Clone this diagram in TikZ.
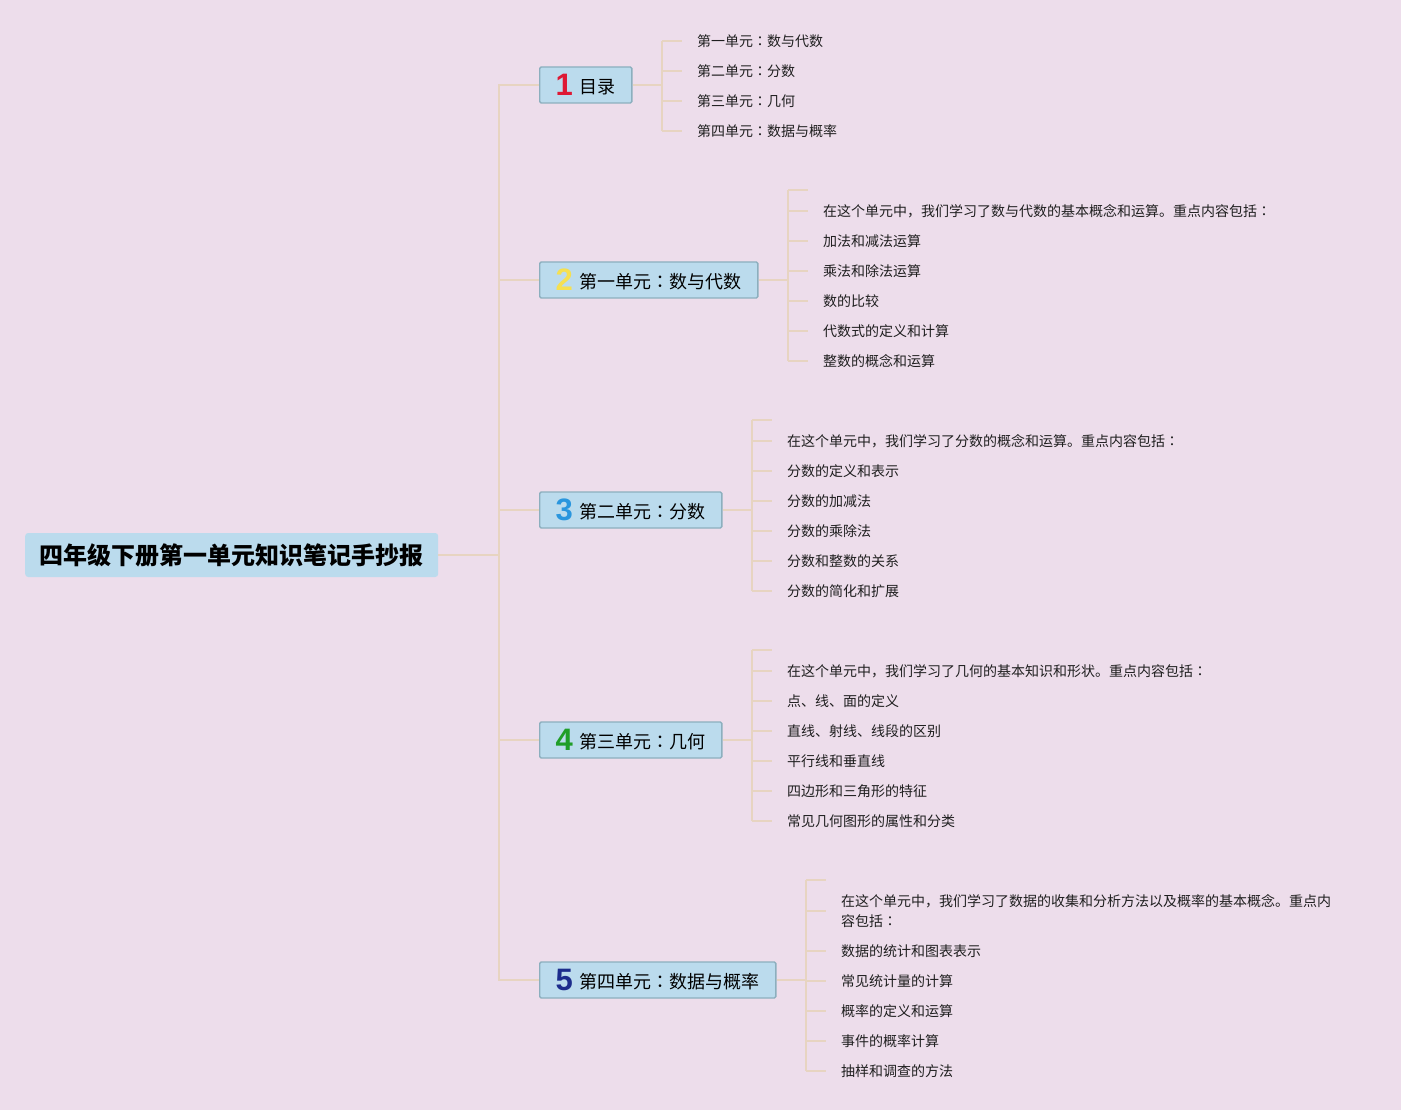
\documentclass[tikz,border=0pt]{standalone}
\usepackage{fontspec}
\newfontfamily\cjk{Noto Sans CJK SC}
\newfontfamily\cjkjp{Noto Sans CJK JP}
\newfontfamily\numf{Liberation Sans}
\definecolor{bg}{RGB}{237,221,235}
\definecolor{boxfill}{RGB}{187,219,237}
\definecolor{boxline}{RGB}{140,175,190}
\definecolor{linkc}{RGB}{231,212,193}
\definecolor{numA}{RGB}{222,24,52}
\definecolor{numB}{RGB}{246,224,80}
\definecolor{numC}{RGB}{42,150,222}
\definecolor{numD}{RGB}{32,158,40}
\definecolor{numE}{RGB}{28,44,140}
\newcommand{\bnumeral}[2]{\raisebox{-2pt}{\numf\bfseries\fontsize{31}{31}\selectfont\textcolor{#1}{#2}}\hspace{7pt}}
\newcommand{\cc}{{\cjkjp ：}}
\tikzset{
  rootbox/.style={fill=boxfill, rounded corners=3pt, anchor=west, inner xsep=0pt,
    minimum width=413pt, minimum height=44pt, font=\cjk\bfseries\fontsize{24}{28}\selectfont},
  branchbox/.style={fill=boxfill, draw=boxline, line width=1.3pt, rounded corners=1.5pt,
    anchor=west, inner xsep=16pt, inner ysep=0pt, minimum height=36pt,
    font=\cjk\fontsize{18}{20}\selectfont},
  leaf/.style={anchor=west, inner xsep=0pt, inner ysep=3pt, text=black!88,
    font=\cjk\fontsize{14}{20}\selectfont, align=left},
  link/.style={draw=linkc, line width=1.5pt},
  trunk/.style={draw=linkc, line width=1.8pt},
}
\begin{document}
\begin{tikzpicture}[x=1pt,y=-1pt]
\fill[bg] (0,0) rectangle (1401,1110);
\useasboundingbox (0,0) rectangle (1401,1110);

% root
\node[rootbox] (root) at (25,555) {四年级下册第一单元知识笔记手抄报};

% branches
\node[branchbox] (b1) at (539,85)  {\bnumeral{numA}{1}目录};
\node[branchbox] (b2) at (539,280) {\bnumeral{numB}{2}第一单元\cc 数与代数};
\node[branchbox] (b3) at (539,510) {\bnumeral{numC}{3}第二单元\cc 分数};
\node[branchbox] (b4) at (539,740) {\bnumeral{numD}{4}第三单元\cc 几何};
\node[branchbox] (b5) at (539,980) {\bnumeral{numE}{5}第四单元\cc 数据与概率};

% trunk
\coordinate (J) at (499,555);
\foreach \b in {b1,b2,b3,b4,b5}
  \draw[trunk] (root.east) -- (J) |- (\b.west);

% leaves branch 1
\node[leaf] (l11) at (697,41)  {第一单元\cc 数与代数};
\node[leaf] (l12) at (697,71)  {第二单元\cc 分数};
\node[leaf] (l13) at (697,101) {第三单元\cc 几何};
\node[leaf] (l14) at (697,131) {第四单元\cc 数据与概率};

% leaves branch 2
\node[leaf] (l21) at (823,211) {在这个单元中，我们学习了数与代数的基本概念和运算。重点内容包括\cc};
\node[leaf] (l22) at (823,241) {加法和减法运算};
\node[leaf] (l23) at (823,271) {乘法和除法运算};
\node[leaf] (l24) at (823,301) {数的比较};
\node[leaf] (l25) at (823,331) {代数式的定义和计算};
\node[leaf] (l26) at (823,361) {整数的概念和运算};

% leaves branch 3
\node[leaf] (l31) at (787,441) {在这个单元中，我们学习了分数的概念和运算。重点内容包括\cc};
\node[leaf] (l32) at (787,471) {分数的定义和表示};
\node[leaf] (l33) at (787,501) {分数的加减法};
\node[leaf] (l34) at (787,531) {分数的乘除法};
\node[leaf] (l35) at (787,561) {分数和整数的关系};
\node[leaf] (l36) at (787,591) {分数的简化和扩展};

% leaves branch 4
\node[leaf] (l41) at (787,671) {在这个单元中，我们学习了几何的基本知识和形状。重点内容包括\cc};
\node[leaf] (l42) at (787,701) {点、线、面的定义};
\node[leaf] (l43) at (787,731) {直线、射线、线段的区别};
\node[leaf] (l44) at (787,761) {平行线和垂直线};
\node[leaf] (l45) at (787,791) {四边形和三角形的特征};
\node[leaf] (l46) at (787,821) {常见几何图形的属性和分类};

% leaves branch 5
\node[leaf] (l51) at (841,911) {在这个单元中，我们学习了数据的收集和分析方法以及概率的基本概念。重点内\\容包括\cc};
\node[leaf] (l52) at (841,951)  {数据的统计和图表表示};
\node[leaf] (l53) at (841,981)  {常见统计量的计算};
\node[leaf] (l54) at (841,1011) {概率的定义和运算};
\node[leaf] (l55) at (841,1041) {事件的概率计算};
\node[leaf] (l56) at (841,1071) {抽样和调查的方法};

% branch 1 connectors
\coordinate (v1) at ([xshift=-35pt]l11.west);
\draw[link] (b1.east) -- (v1 |- b1.east);
\draw[link] (v1 |- l11.west) -- (v1 |- l14.west);
\foreach \l in {l11,l12,l13,l14}
  \draw[link] (v1 |- \l.west) -- ([xshift=-15pt]\l.west);

% branch 2 connectors
\coordinate (v2) at ([xshift=-35pt]l21.west);
\coordinate (s2) at ([xshift=-35pt,yshift=21pt]l21.west);
\draw[link] (b2.east) -- (v2 |- b2.east);
\draw[link] (s2) -- (v2 |- l26.west);
\draw[link] (s2) -- ++(20,0);
\foreach \l in {l21,l22,l23,l24,l25,l26}
  \draw[link] (v2 |- \l.west) -- ([xshift=-15pt]\l.west);

% branch 3 connectors
\coordinate (v3) at ([xshift=-35pt]l31.west);
\coordinate (s3) at ([xshift=-35pt,yshift=21pt]l31.west);
\draw[link] (b3.east) -- (v3 |- b3.east);
\draw[link] (s3) -- (v3 |- l36.west);
\draw[link] (s3) -- ++(20,0);
\foreach \l in {l31,l32,l33,l34,l35,l36}
  \draw[link] (v3 |- \l.west) -- ([xshift=-15pt]\l.west);

% branch 4 connectors
\coordinate (v4) at ([xshift=-35pt]l41.west);
\coordinate (s4) at ([xshift=-35pt,yshift=21pt]l41.west);
\draw[link] (b4.east) -- (v4 |- b4.east);
\draw[link] (s4) -- (v4 |- l46.west);
\draw[link] (s4) -- ++(20,0);
\foreach \l in {l41,l42,l43,l44,l45,l46}
  \draw[link] (v4 |- \l.west) -- ([xshift=-15pt]\l.west);

% branch 5 connectors
\coordinate (v5) at ([xshift=-35pt]l51.west);
\coordinate (s5) at ([xshift=-35pt,yshift=31pt]l51.west);
\draw[link] (b5.east) -- (v5 |- b5.east);
\draw[link] (s5) -- (v5 |- l56.west);
\draw[link] (s5) -- ++(20,0);
\foreach \l in {l51,l52,l53,l54,l55,l56}
  \draw[link] (v5 |- \l.west) -- ([xshift=-15pt]\l.west);
\end{tikzpicture}
\end{document}
